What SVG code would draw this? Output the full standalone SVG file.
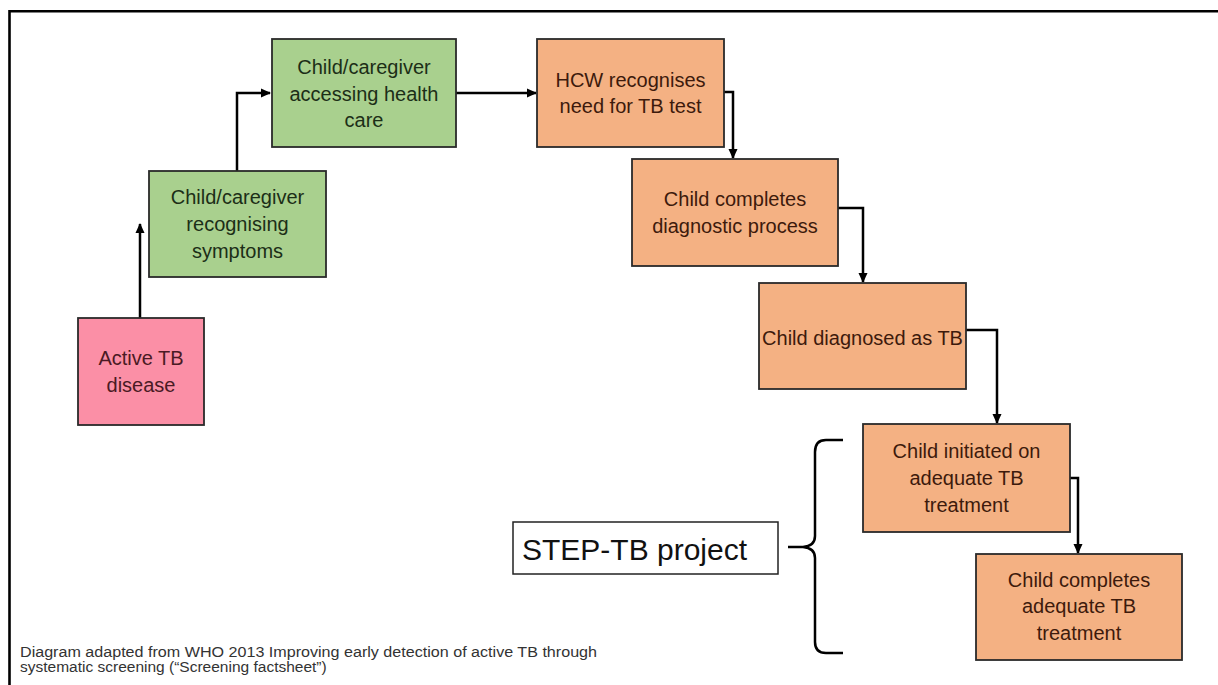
<svg xmlns="http://www.w3.org/2000/svg" width="1218" height="685" viewBox="0 0 1218 685">
<style>
  .box { stroke: #2a2a2a; stroke-width: 1.8; }
  .green { fill: #a9d08e; }
  .orange { fill: #f4b183; }
  .pink { fill: #fb8fa6; }
  .t { font-family: "Liberation Sans", Arial, sans-serif; font-size: 20px; text-anchor: middle; }
  .tg { fill: #1c2e17; }
  .to { fill: #3d1a0c; }
  .tp { fill: #4a1a24; }
  .conn { fill: none; stroke: #000; stroke-width: 2.5; }
  .foot { font-family: "Liberation Sans", Arial, sans-serif; font-size: 15.5px; fill: #333; }
</style>
<defs>
  <marker id="arr" markerUnits="userSpaceOnUse" markerWidth="10" markerHeight="10" viewBox="0 0 10 10" refX="9" refY="5" orient="auto">
    <path d="M0,0.5 L10,5 L0,9.5 Z" fill="#000"/>
  </marker>
</defs>
<rect width="1218" height="685" fill="#fff"/>
<g id="frame">
  <path d="M9.5,685 V11.2 H1218" fill="none" stroke="#000" stroke-width="2.6"/>
</g>
<g id="connectors">
  <path class="conn" d="M140,318 V224" marker-end="url(#arr)"/>
  <path class="conn" d="M237,171 V93 H270" marker-end="url(#arr)"/>
  <path class="conn" d="M456,93 H536" marker-end="url(#arr)"/>
  <path class="conn" d="M724,92 H733 V158" marker-end="url(#arr)"/>
  <path class="conn" d="M838,208 H863 V282" marker-end="url(#arr)"/>
  <path class="conn" d="M966,330 H997 V423" marker-end="url(#arr)"/>
  <path class="conn" d="M1069,478 H1078 V553" marker-end="url(#arr)"/>
</g>
<g id="n-active">
  <rect class="box pink" x="78" y="318" width="126" height="107"/>
  <text class="t tp" x="141" y="365">Active TB</text>
  <text class="t tp" x="141" y="392">disease</text>
</g>
<g id="n-recognising">
  <rect class="box green" x="149" y="171" width="177" height="106"/>
  <text class="t tg" x="237.5" y="204">Child/caregiver</text>
  <text class="t tg" x="237.5" y="231">recognising</text>
  <text class="t tg" x="237.5" y="258">symptoms</text>
</g>
<g id="n-accessing">
  <rect class="box green" x="272" y="39" width="184" height="108"/>
  <text class="t tg" x="364" y="74">Child/caregiver</text>
  <text class="t tg" x="364" y="101">accessing health</text>
  <text class="t tg" x="364" y="127">care</text>
</g>
<g id="n-hcw">
  <rect class="box orange" x="537" y="39" width="187" height="108"/>
  <text class="t to" x="630.5" y="87">HCW recognises</text>
  <text class="t to" x="630.5" y="113">need for TB test</text>
</g>
<g id="n-diagnostic">
  <rect class="box orange" x="632" y="159" width="206" height="107"/>
  <text class="t to" x="735" y="206">Child completes</text>
  <text class="t to" x="735" y="233">diagnostic process</text>
</g>
<g id="n-diagnosed">
  <rect class="box orange" x="759" y="283" width="207" height="106"/>
  <text class="t to" x="862.5" y="345">Child diagnosed as TB</text>
</g>
<g id="n-initiated">
  <rect class="box orange" x="863" y="424" width="207" height="108"/>
  <text class="t to" x="966.5" y="458">Child initiated on</text>
  <text class="t to" x="966.5" y="485">adequate TB</text>
  <text class="t to" x="966.5" y="512">treatment</text>
</g>
<g id="n-completes">
  <rect class="box orange" x="976" y="554" width="206" height="106"/>
  <text class="t to" x="1079" y="587">Child completes</text>
  <text class="t to" x="1079" y="613">adequate TB</text>
  <text class="t to" x="1079" y="640">treatment</text>
</g>
<g id="n-steptb">
  <rect x="513" y="522" width="265" height="52" fill="#fff" stroke="#222" stroke-width="1.5"/>
  <text x="522" y="560" font-family="'Liberation Sans', Arial, sans-serif" font-size="30" fill="#111">STEP-TB project</text>
</g>
<g id="brace">
  <path d="M843,440 H826 Q815,440 815,452 V536 Q815,546 803,547 H788 H803 Q815,548 815,558 V642 Q815,653 826,653 H843" fill="none" stroke="#000" stroke-width="2.5"/>
</g>
<g id="footer">
  <text class="foot" x="20" y="657" textLength="577" lengthAdjust="spacingAndGlyphs">Diagram adapted from WHO 2013 Improving early detection of active TB through</text>
  <text class="foot" x="20" y="672">systematic screening (“Screening factsheet”)</text>
</g>
</svg>
